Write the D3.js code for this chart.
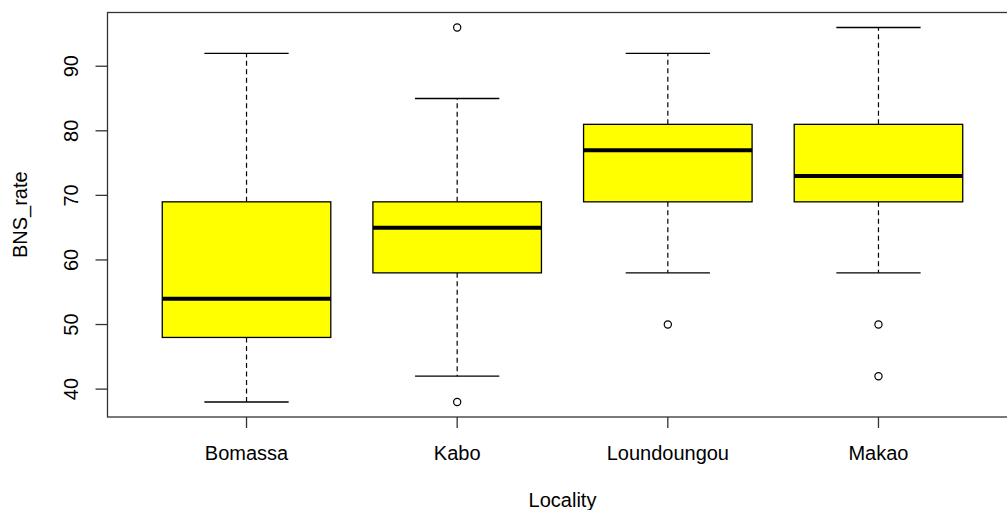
<!DOCTYPE html>
<meta charset="utf-8">
<head>
    <style>
        *{ padding: 0; margin: 0; }
        body{ background: #fff; }
        svg{ display: block; }
        text{ font-family: "Liberation Sans", Arial, sans-serif; fill: #000; }
    </style>
</head>
<body>
    <svg id="chart" width="1007" height="510"></svg>
    <script src="https://cdn.jsdelivr.net/npm/d3@7"></script>
    <script>
        // 数据: 每个地点的箱线图统计
        var localities = ["Bomassa", "Kabo", "Loundoungou", "Makao"];
        var whiskerLow  = [38, 42, 58, 58];
        var q1          = [48, 58, 69, 69];
        var medians     = [54, 65, 77, 73];
        var q3          = [69, 69, 81, 81];
        var whiskerHigh = [92, 85, 92, 96];
        var outliers    = [[], [96, 38], [50], [50, 42]];
        var yTicks = [40, 50, 60, 70, 80, 90];

        var svg = d3.select("#chart");

        // 注意: 不能用 top 作为全局变量名 (window.top)
        var pLeft = 107.5, pRight = 1017.5, pTop = 12.5, pBottom = 417;

        var x = d3.scaleLinear().domain([0.34, 4.66]).range([pLeft, pRight]);
        var y = d3.scaleLinear().domain([35.68, 98.32]).range([pBottom, pTop]);

        var boxHalf = (x(1.4) - x(1));
        var capHalf = boxHalf / 2;

        var g = svg.append("g");

        localities.forEach(function(name, i) {
            var cx = x(i + 1);

            // 须线 (虚线)
            g.append("line")
                .attr("x1", cx).attr("x2", cx)
                .attr("y1", y(q3[i])).attr("y2", y(whiskerHigh[i]))
                .attr("stroke", "#000").attr("stroke-width", 1.2)
                .attr("stroke-dasharray", "5,3.5");
            g.append("line")
                .attr("x1", cx).attr("x2", cx)
                .attr("y1", y(q1[i])).attr("y2", y(whiskerLow[i]))
                .attr("stroke", "#000").attr("stroke-width", 1.2)
                .attr("stroke-dasharray", "5,3.5");

            // 端线
            [whiskerLow[i], whiskerHigh[i]].forEach(function(v) {
                g.append("line")
                    .attr("x1", cx - capHalf).attr("x2", cx + capHalf)
                    .attr("y1", y(v)).attr("y2", y(v))
                    .attr("stroke", "#000").attr("stroke-width", 1.3);
            });

            // 箱体
            g.append("rect")
                .attr("x", cx - boxHalf)
                .attr("y", y(q3[i]))
                .attr("width", boxHalf * 2)
                .attr("height", y(q1[i]) - y(q3[i]))
                .attr("fill", "#ffff00")
                .attr("stroke", "#000")
                .attr("stroke-width", 1.3);

            // 中位数
            g.append("line")
                .attr("x1", cx - boxHalf).attr("x2", cx + boxHalf)
                .attr("y1", y(medians[i])).attr("y2", y(medians[i]))
                .attr("stroke", "#000").attr("stroke-width", 4);

            // 离群点
            outliers[i].forEach(function(v) {
                g.append("circle")
                    .attr("cx", cx).attr("cy", y(v))
                    .attr("r", 3.6)
                    .attr("fill", "none")
                    .attr("stroke", "#000")
                    .attr("stroke-width", 1.2);
            });
        });

        // 边框
        svg.append("rect")
            .attr("x", pLeft).attr("y", pTop)
            .attr("width", pRight - pLeft).attr("height", pBottom - pTop)
            .attr("fill", "none")
            .attr("stroke", "#333")
            .attr("stroke-width", 1.3);

        // y 轴
        var yAxis = svg.append("g");
        yTicks.forEach(function(t) {
            yAxis.append("line")
                .attr("x1", pLeft - 12).attr("x2", pLeft)
                .attr("y1", y(t)).attr("y2", y(t))
                .attr("stroke", "#333").attr("stroke-width", 1.3);
            yAxis.append("text")
                .attr("transform", "translate(78," + y(t) + ") rotate(-90)")
                .attr("text-anchor", "middle")
                .attr("font-size", "20px")
                .text(t);
        });

        // x 轴
        localities.forEach(function(name, i) {
            svg.append("line")
                .attr("x1", x(i + 1)).attr("x2", x(i + 1))
                .attr("y1", pBottom).attr("y2", pBottom + 11)
                .attr("stroke", "#333").attr("stroke-width", 1.3);
            svg.append("text")
                .attr("x", x(i + 1))
                .attr("y", 460)
                .attr("text-anchor", "middle")
                .attr("font-size", "20px")
                .text(name);
        });

        // 轴标题
        svg.append("text")
            .attr("x", (pLeft + pRight) / 2)
            .attr("y", 507)
            .attr("text-anchor", "middle")
            .attr("font-size", "20px")
            .text("Locality");

        svg.append("text")
            .attr("transform", "translate(27," + ((pTop + pBottom) / 2) + ") rotate(-90)")
            .attr("text-anchor", "middle")
            .attr("font-size", "20px")
            .text("BNS_rate");
    </script>
</body>
